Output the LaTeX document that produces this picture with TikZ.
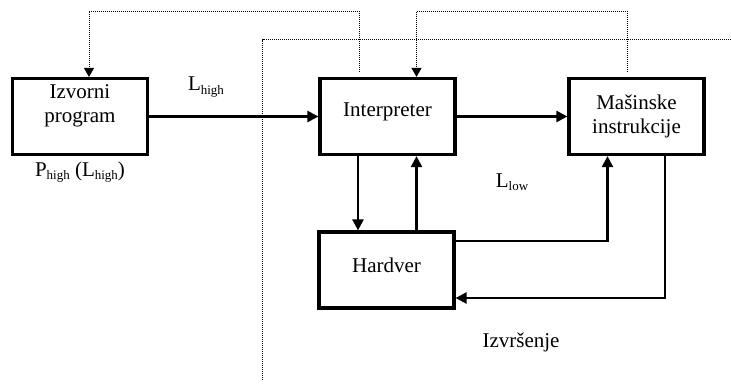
\documentclass[tikz,border=0pt]{standalone}
\usepackage{fontspec}
\setmainfont{Liberation Serif}
\usetikzlibrary{arrows.meta}
\newcommand\lowsub[1]{\raisebox{-0.35ex}{\fontsize{13}{13}\selectfont #1}}
\begin{document}
\begin{tikzpicture}[x=1pt,y=-1pt,
  font=\fontsize{21}{24}\selectfont,
  block/.style={draw,line width=3.2pt,minimum width=135pt,minimum height=76pt,inner sep=0pt},
  conn/.style={line width=2.4pt,-{Triangle[length=11pt,width=11pt]}},
  dots/.style={line width=1pt,dash pattern=on 1pt off 1pt},
  dotarrow/.style={dots,-{Triangle[length=9pt,width=10pt]}},
  lbl/.style={inner sep=0pt}]
\useasboundingbox (0,0) rectangle (731,383);

% blocks
\node[block] (izv) at (80,116.5) {};
\node[lbl,align=center] at (80,106) {Izvorni\\program};
\node[block] (int) at (387.5,116.5) {};
\node[lbl] at (387.5,112) {Interpreter};
\node[block] (mas) at (636.5,116.5) {};
\node[lbl,align=center] at (636.5,116) {Mašinske\\instrukcije};
\node[block] (hw) at (386.5,270) {};
\node[lbl] at (386.5,265) {Hardver};

% labels
\node[lbl] (lhigh) at (206,87) {L\lowsub{high}};
\node[lbl] (phigh) at (80,172) {P\lowsub{high} (L\lowsub{high})};
\node[lbl] (llow) at (512,182) {L\lowsub{low}};
\node[lbl] (izvr) at (521,342) {Izvršenje};

% solid connectors
\draw[conn] (izv.east) -- (int.west);
\draw[conn] (int.east) -- (mas.west);
\coordinate (xa) at (358,0);
\coordinate (xb) at (416.5,0);
\coordinate (xc) at (607.5,0);
\coordinate (xd) at (665,0);
\coordinate (ya) at (0,241);
\coordinate (yb) at (0,298);
\draw[conn] (int.south -| xa) -- (hw.north -| xa);
\draw[conn] (hw.north -| xb) -- (int.south -| xb);
\draw[conn] (hw.east |- ya) -| (mas.south -| xc);
\draw[conn] (mas.south -| xd) |- (hw.east |- yb);

% dotted feedback paths
\coordinate (d1) at (359,72);
\coordinate (d1top) at (359,11);
\coordinate (d1x) at (89,0);
\draw[dotarrow] (d1) -- (d1top) -| (izv.north -| d1x);
\coordinate (d2) at (627,72);
\coordinate (d2top) at (627,11);
\draw[dotarrow] (d2) -- (d2top) -| (int.north -| xb);
\coordinate (d3a) at (262.5,380);
\coordinate (d3b) at (262.5,39.5);
\coordinate (d3c) at (731,39.5);
\draw[dots] (d3a) -- (d3b) -- (d3c);
\end{tikzpicture}
\end{document}
